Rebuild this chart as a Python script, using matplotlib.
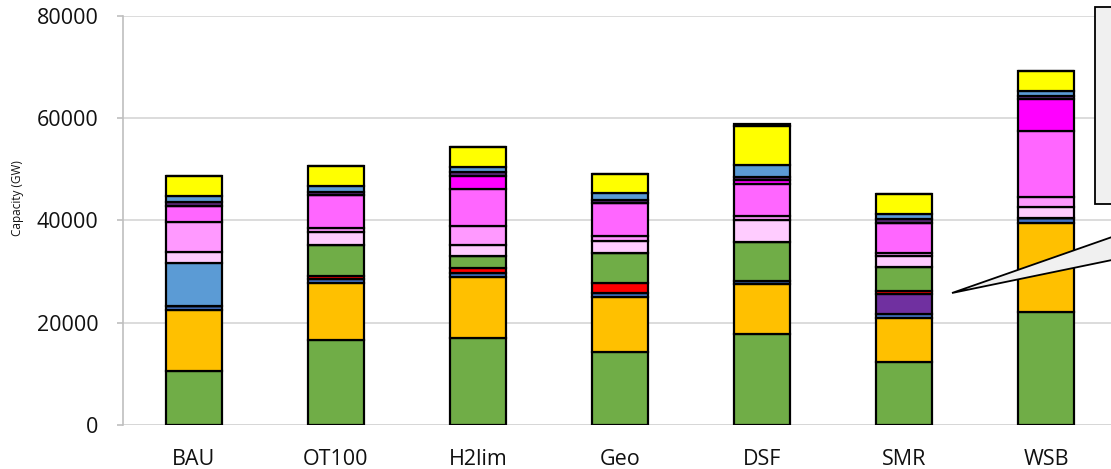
import numpy as np
import matplotlib.pyplot as plt
from matplotlib.patches import Rectangle, Polygon

plt.rcParams["font.family"] = ["Open Sans", "DejaVu Sans"]

scenarios = ["BAU", "OT100", "H2lim", "Geo", "DSF", "SMR", "WSB"]

# stacked segments, bottom to top, GW
green_low   = [10600, 16700, 17000, 14300, 17800, 12300, 22200]
orange      = [11900, 11100, 12000, 10700,  9700,  8700, 17400]
navy        = [  800,   700,   800,   800,   600,   800,   900]
purple      = [    0,     0,     0,     0,     0,  3800,     0]
red         = [    0,   700,   900,  1900,     0,   700,     0]
green_up    = [    0,  6100,  2400,  5900,  7600,  4600,     0]
blue_big    = [ 8300,     0,     0,     0,     0,     0,     0]
pink_light  = [ 2300,  2400,  2100,  2300,  4300,  2200,  2200]
pink        = [ 5900,   900,  3800,  1100,   900,   600,  1800]
magenta_lt  = [ 3100,  6400,  7200,  6400,  6200,  5800, 13000]
magenta     = [    0,     0,  2600,     0,   900,     0,  6200]
dark_purple = [  800,   600,   600,   600,   500,   700,   700]
blue_thin   = [ 1000,  1100,  1000,  1300,  2400,  1100,  1000]
yellow      = [ 4000,  4000,  4000,  3700,  7600,  3800,  3800]
black_top   = [    0,     0,     0,     0,   300,     0,     0]

series = [green_low, orange, navy, purple, red, green_up, blue_big,
          pink_light, pink, magenta_lt, magenta, dark_purple,
          blue_thin, yellow, black_top]
colors = ["#70AD47", "#FFC000", "#4472C4", "#7030A0", "#FF0000", "#70AD47",
          "#5B9BD5", "#FFCCFF", "#FF99FF", "#FF66FF", "#FF00FF", "#5C2A7A",
          "#5B9BD5", "#FFFF00", "#000000"]

fig = plt.figure(figsize=(11.11, 4.69), dpi=100)
ax = fig.add_axes([123 / 1111, 1 - 425 / 469, 994 / 1111, 409 / 469])

x = np.arange(len(scenarios))
bottom = np.zeros(len(scenarios))
for vals, c in zip(series, colors):
    vals = np.array(vals, dtype=float)
    ax.bar(x, vals, width=0.4, bottom=bottom, color=c,
           edgecolor="black", linewidth=1.6, zorder=3)
    bottom += vals

ax.set_xlim(-0.5, len(scenarios) - 0.5)
ax.set_ylim(0, 80000)
ax.set_yticks(np.arange(0, 80001, 20000))
ax.set_xticks(x)
ax.set_xticklabels(scenarios)
ax.grid(axis="y", color="#D9D9D9", lw=1.3, zorder=0)
for s in ["top", "right", "bottom"]:
    ax.spines[s].set_visible(False)
ax.spines["left"].set_color("#BFBFBF")
ax.spines["left"].set_linewidth(1.2)
ax.axhline(0, color="#BFBFBF", lw=1.3, zorder=1)

ax.tick_params(axis="y", length=4.5, color="#BFBFBF", width=1.2,
               labelsize=15.5, labelcolor="#111111", pad=13)
ax.tick_params(axis="x", length=0, labelsize=15.5, labelcolor="#111111", pad=17)
ax.set_ylabel("Capacity (GW)", fontsize=8.5, color="#111111")
ax.yaxis.set_label_coords(-0.0996, 0.555)

# callout box and pointer (cropped at right edge)
W, H = 1111, 469
box = Rectangle((1095 / W, 1 - 204 / H), 40 / W, 197 / H,
                transform=fig.transFigure, facecolor="#F0F0F0",
                edgecolor="black", lw=1.3, zorder=10)
fig.patches.append(box)
wedge = Polygon([(952 / W, 1 - 293 / H), (1112 / W, 1 - 237 / H),
                 (1112 / W, 1 - 260 / H)], closed=True,
                transform=fig.transFigure, facecolor="#F0F0F0",
                edgecolor="black", lw=1.3, zorder=10)
fig.patches.append(wedge)

fig.savefig("out.png", dpi=100)
